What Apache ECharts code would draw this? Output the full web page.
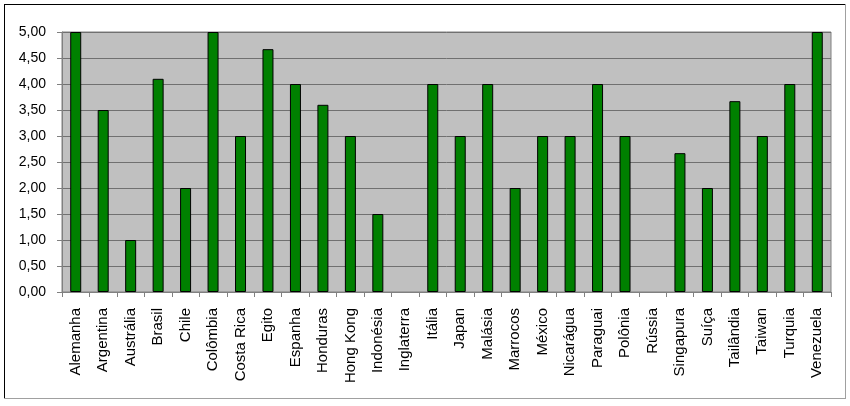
<!DOCTYPE html>
<html>
<head>
<meta charset="utf-8">
<script src="https://cdn.jsdelivr.net/npm/echarts@6/dist/echarts.min.js"></script>
<style>
  html, body { margin: 0; padding: 0; background: #fff; }
  #chart { width: 850px; height: 406px; }
</style>
</head>
<body>
<div id="chart"></div>
<script>
const categories = ['Alemanha', 'Argentina', 'Austrália', 'Brasil', 'Chile', 'Colômbia', 'Costa Rica',
  'Egito', 'Espanha', 'Honduras', 'Hong Kong', 'Indonésia', 'Inglaterra', 'Itália', 'Japan',
  'Malásia', 'Marrocos', 'México', 'Nicarágua', 'Paraguai', 'Polônia', 'Rússia', 'Singapura',
  'Suíça', 'Tailândia', 'Taiwan', 'Turquia', 'Venezuela']
// Inglaterra and Rússia have no bar in the picture
const values = [5, 3.5, 1, 4.1, 2, 5, 3, 4.67, 4, 3.6, 3, 1.5, null, 4, 3, 4, 2, 3, 3, 4, 3, null, 2.67,
  2, 3.67, 3, 4, 5]
const yMin = 0
const yMax = 5
const yStep = 0.5

const chart = echarts.init(document.getElementById('chart'))

const option = {
  animation: false,
  backgroundColor: '#fff',
  textStyle: { fontFamily: 'Arial, "Liberation Sans", sans-serif' },
  graphic: [
    // frame round the chart: dark top/left, light bottom/right
    { type: 'line', shape: { x1: 4, y1: 4.5, x2: 846, y2: 4.5 }, style: { stroke: '#000', lineWidth: 1 } },
    { type: 'line', shape: { x1: 4.5, y1: 4, x2: 4.5, y2: 399 }, style: { stroke: '#000', lineWidth: 1 } },
    { type: 'line', shape: { x1: 845.5, y1: 4, x2: 845.5, y2: 399 }, style: { stroke: '#a0a0a0', lineWidth: 1 } },
    { type: 'line', shape: { x1: 4, y1: 398.5, x2: 846, y2: 398.5 }, style: { stroke: '#a0a0a0', lineWidth: 1 } }
  ],
  grid: {
    left: 62,
    right: 19,
    top: 32,
    bottom: 114,
    show: true,
    backgroundColor: '#c0c0c0',
    borderColor: '#808080',
    borderWidth: 1
  },
  xAxis: {
    type: 'category',
    data: categories,
    boundaryGap: true,
    axisLine: { lineStyle: { color: '#808080' } },
    axisTick: { show: true, length: 5, lineStyle: { color: '#808080' } },
    axisLabel: {
      rotate: 90,
      interval: 0,
      margin: 16,
      color: '#000',
      fontSize: 15
    }
  },
  yAxis: {
    type: 'value',
    min: yMin,
    max: yMax,
    interval: yStep,
    axisLine: { show: true, lineStyle: { color: '#808080' } },
    axisTick: { show: true, length: 5, lineStyle: { color: '#808080' } },
    axisLabel: {
      margin: 16,
      color: '#000',
      fontSize: 14,
      formatter: v => v.toFixed(2).replace('.', ',')
    },
    splitLine: { lineStyle: { color: '#707070', width: 1 } }
  },
  series: [
    {
      type: 'bar',
      data: values,
      barWidth: 11,
      itemStyle: {
        color: '#008000',
        borderColor: '#000',
        borderWidth: 1
      }
    }
  ]
}

chart.setOption(option)
</script>
</body>
</html>
